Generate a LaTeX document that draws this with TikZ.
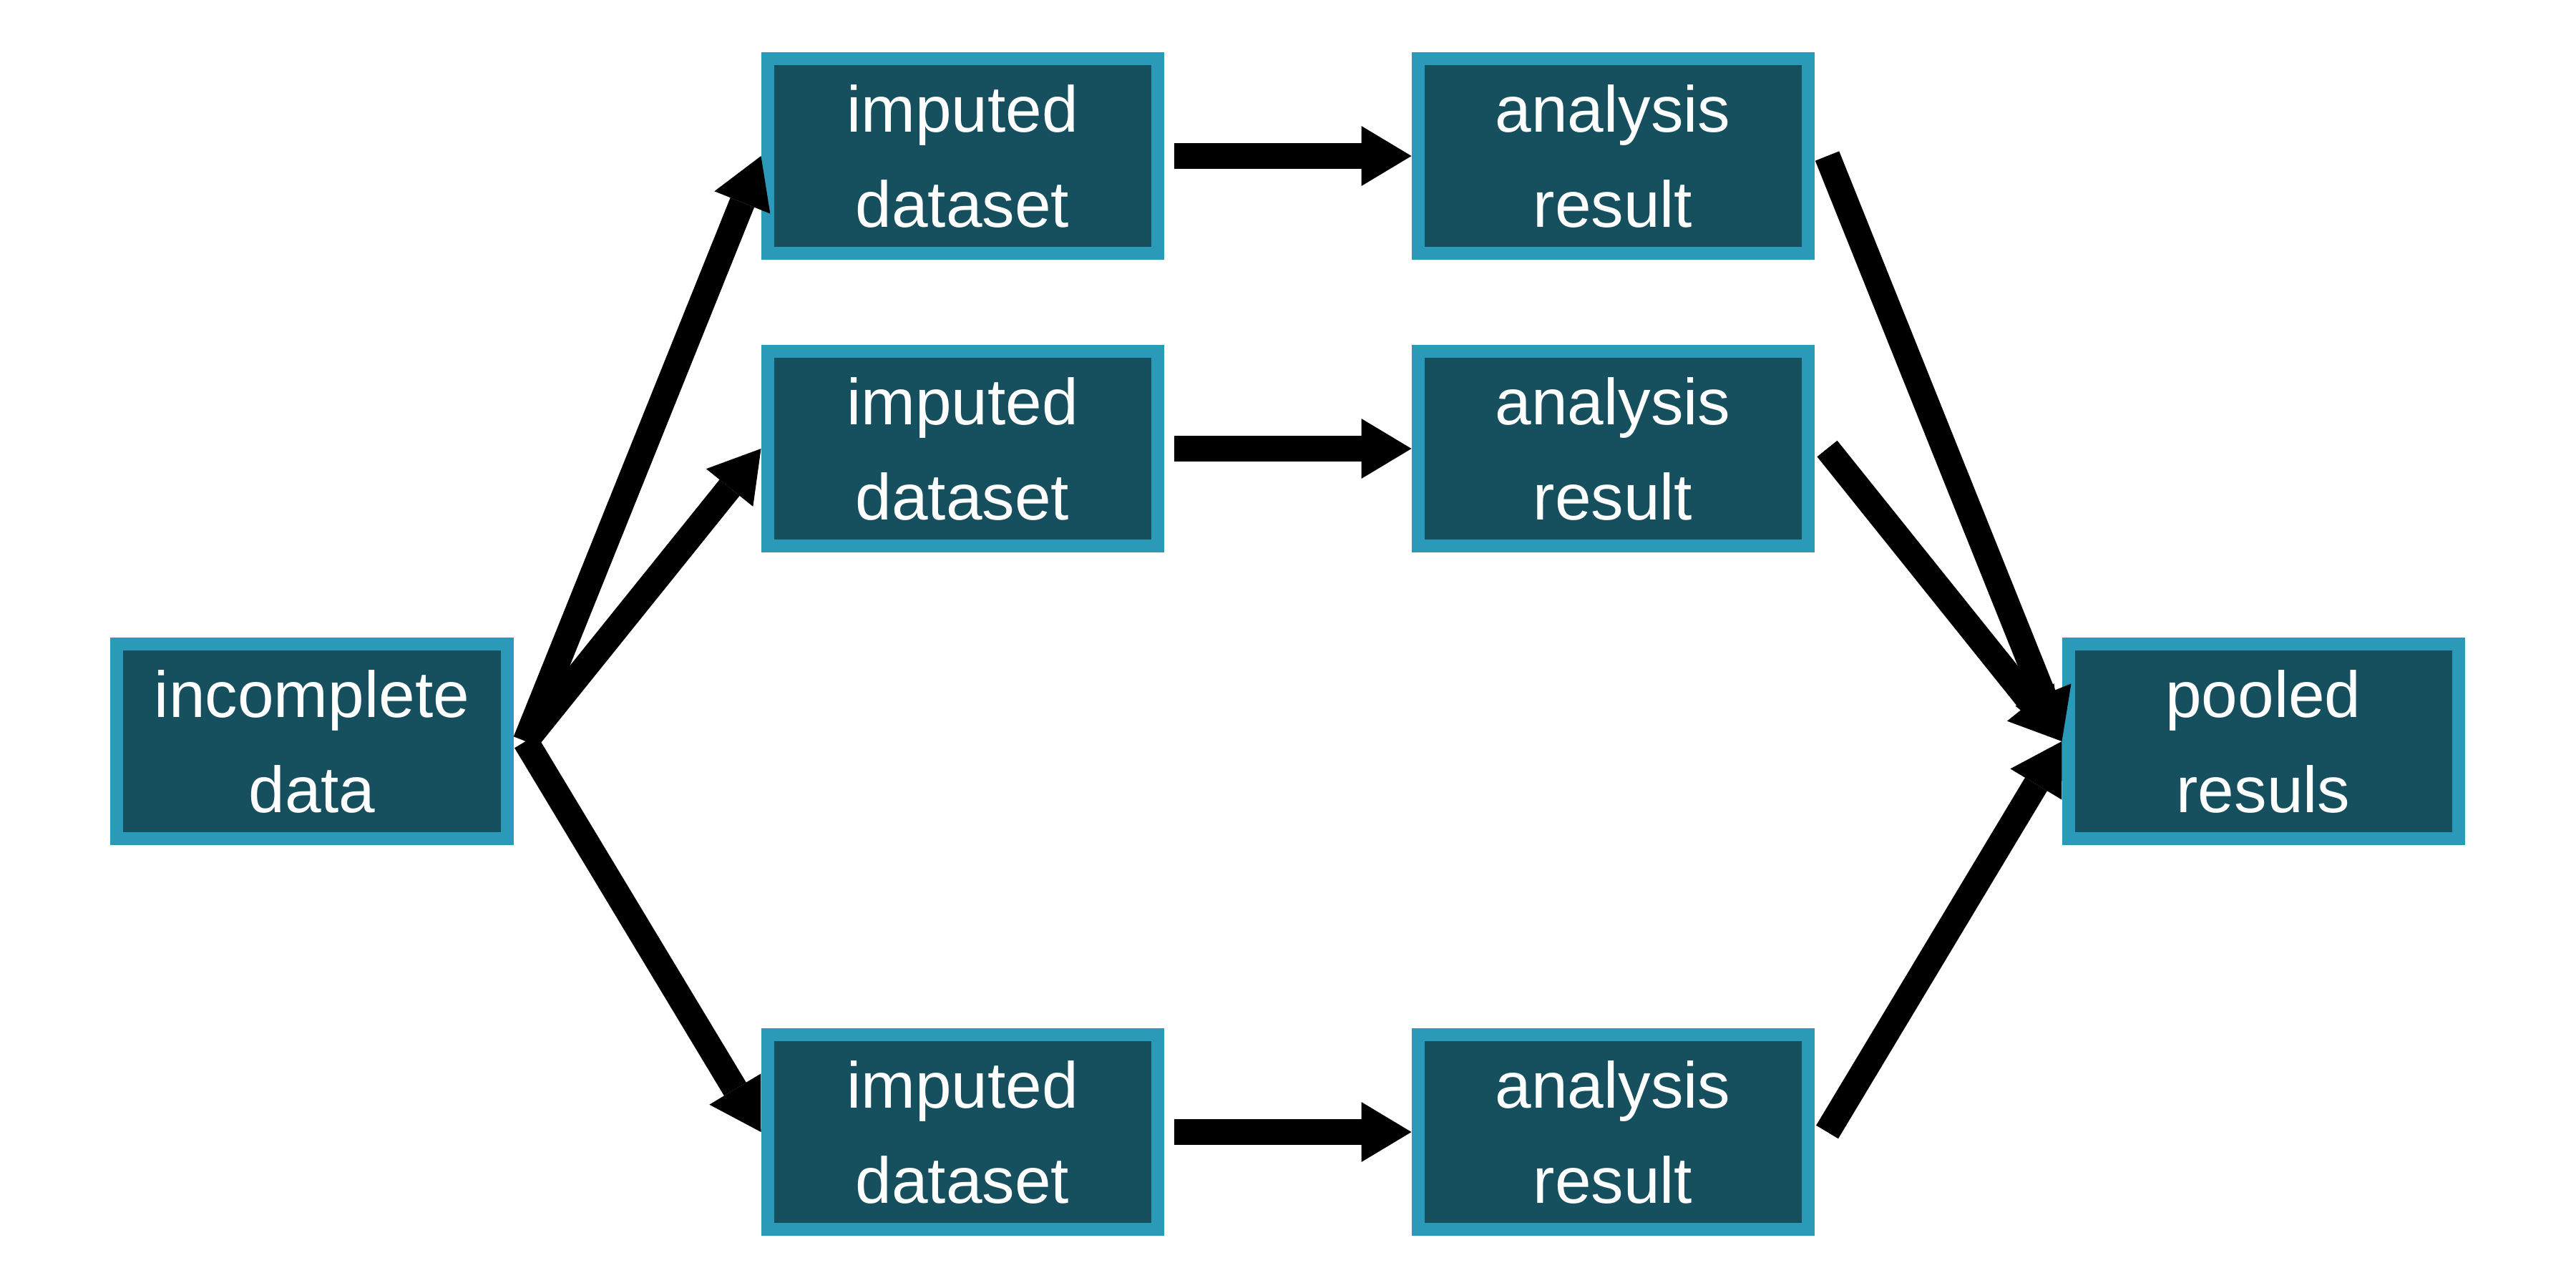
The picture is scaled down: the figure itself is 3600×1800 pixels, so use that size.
\documentclass[tikz,border=0pt]{standalone}
\usepackage{fontspec}
\setmainfont{Liberation Sans}
\usetikzlibrary{arrows.meta}
\definecolor{boxfill}{HTML}{164F5E}
\definecolor{boxline}{HTML}{2B9AB8}
\begin{document}
\begin{tikzpicture}[x=0.2pt,y=-0.2pt,
  box/.style={draw=boxline, fill=boxfill, line width=3.6pt,
    minimum width=109pt, minimum height=54.4pt, inner sep=0pt,
    text=white, align=center, font=\fontsize{18.2pt}{26.6pt}\selectfont},
  flow/.style={line width=7.2pt,
    -{Triangle[length=14pt,width=16.8pt,line width=0pt]}}]
\useasboundingbox (0,0) rectangle (3600,1800);
\node[box] (inc) at (436,1036) {incomplete\\data};
\node[box] (imp1) at (1345,218) {imputed\\dataset};
\node[box] (imp2) at (1345,627) {imputed\\dataset};
\node[box] (imp3) at (1345,1582) {imputed\\dataset};
\node[box] (ana1) at (2254,218) {analysis\\result};
\node[box] (ana2) at (2254,627) {analysis\\result};
\node[box] (ana3) at (2254,1582) {analysis\\result};
\node[box] (pool) at (3163,1036) {pooled\\resuls};
\coordinate (incout) at ([xshift=3.4pt]inc.east);
\draw[flow] (incout) -- (imp1.west);
\draw[flow] (incout) -- (imp2.west);
\draw[flow] (incout) -- (imp3.west);
\draw[flow] ([xshift=2.8pt]imp1.east) -- (ana1.west);
\draw[flow] ([xshift=2.8pt]imp2.east) -- (ana2.west);
\draw[flow] ([xshift=2.8pt]imp3.east) -- (ana3.west);
\draw[flow] ([xshift=3.6pt]ana1.east) -- (pool.west);
\draw[flow] ([xshift=3.6pt]ana2.east) -- (pool.west);
\draw[flow] ([xshift=3.6pt]ana3.east) -- (pool.west);
\end{tikzpicture}
\end{document}
